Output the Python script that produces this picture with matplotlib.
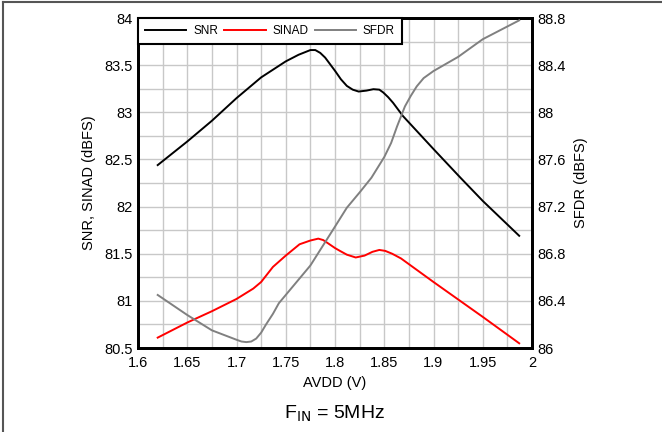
import numpy as np
import matplotlib
matplotlib.use('Agg')
import matplotlib.pyplot as plt
from matplotlib.lines import Line2D

plt.rcParams['font.family'] = ['Liberation Sans', 'DejaVu Sans']

# values
snr_x = [1.62, 1.65, 1.675, 1.70, 1.725, 1.75, 1.763, 1.775, 1.780, 1.785,
         1.790, 1.795, 1.80, 1.806, 1.812, 1.818, 1.824, 1.832, 1.839, 1.845,
         1.849, 1.854, 1.859, 1.864, 1.869, 1.90, 1.927, 1.95, 1.987]
snr_y = [82.44, 82.69, 82.91, 83.15, 83.37, 83.54, 83.61, 83.66, 83.66, 83.63,
         83.58, 83.51, 83.44, 83.35, 83.28, 83.24, 83.22, 83.23, 83.245, 83.24,
         83.21, 83.16, 83.10, 83.03, 82.96, 82.61, 82.31, 82.06, 81.69]

sinad_x = [1.62, 1.65, 1.675, 1.70, 1.717, 1.725, 1.737, 1.75, 1.764, 1.775,
           1.783, 1.788, 1.793, 1.80, 1.805, 1.812, 1.821, 1.83, 1.838, 1.845,
           1.851, 1.858, 1.867, 1.90, 1.95, 1.987]
sinad_y = [80.61, 80.77, 80.89, 81.02, 81.13, 81.20, 81.36, 81.48, 81.60, 81.64,
           81.66, 81.645, 81.61, 81.56, 81.53, 81.49, 81.46, 81.48, 81.52, 81.54,
           81.53, 81.50, 81.45, 81.20, 80.83, 80.55]

sfdr_x = [1.62, 1.65, 1.675, 1.70, 1.705, 1.710, 1.715, 1.720, 1.725, 1.73,
          1.737, 1.743, 1.75, 1.762, 1.775, 1.80, 1.812, 1.825, 1.837, 1.85,
          1.857, 1.863, 1.871, 1.877, 1.883, 1.89, 1.90, 1.925, 1.95, 1.987]
sfdr_y = [86.45, 86.28, 86.15, 86.07, 86.055, 86.05, 86.055, 86.08, 86.13, 86.20,
          86.29, 86.38, 86.45, 86.57, 86.70, 87.03, 87.19, 87.32, 87.445, 87.62,
          87.74, 87.88, 88.05, 88.14, 88.22, 88.29, 88.35, 88.47, 88.62, 88.78]

fig = plt.figure(figsize=(6.62, 4.32), dpi=100)
ax = fig.add_axes([138/662, 1 - 348/432, 394/662, 330/432])
ax2 = ax.twinx()

ax.set_xlim(1.6, 2.0)
ax.set_ylim(80.5, 84)
ax2.set_ylim(86, 88.8)

ax.set_xticks(np.arange(1.6, 2.001, 0.05))
ax.set_xticklabels(['1.6', '1.65', '1.7', '1.75', '1.8', '1.85', '1.9', '1.95', '2'])
ax.set_xticks(np.arange(1.6, 2.001, 0.025), minor=True)
ax.set_yticks(np.arange(80.5, 84.01, 0.5))
ax.set_yticklabels(['80.5', '81', '81.5', '82', '82.5', '83', '83.5', '84'])
ax.set_yticks(np.arange(80.5, 84.01, 0.25), minor=True)
ax2.set_yticks(np.arange(86, 88.81, 0.4))
ax2.set_yticklabels(['86', '86.4', '86.8', '87.2', '87.6', '88', '88.4', '88.8'])

ax.grid(True, which='both', color='#c8c8c8', linewidth=1.0)
ax.set_axisbelow(True)
for a in (ax, ax2):
    a.tick_params(which='both', length=0, labelsize=10.5, pad=4)
    for s in a.spines.values():
        s.set_linewidth(2)
        s.set_color('black')
ax.tick_params(axis='x', pad=6)

ax.plot(snr_x, snr_y, color='black', lw=1.4, zorder=3)
ax.plot(sinad_x, sinad_y, color='#ff0000', lw=1.4, zorder=3)
ax2.plot(sfdr_x, sfdr_y, color='#808080', lw=1.4, zorder=3)

ax.set_xlabel('AVDD (V)', fontsize=10.5, labelpad=4)
ax.set_ylabel('SNR, SINAD (dBFS)', fontsize=10.5, labelpad=6)
ax2.set_ylabel('SFDR (dBFS)', fontsize=10.5, labelpad=6)

handles = [Line2D([], [], color='black', lw=1.4),
           Line2D([], [], color='#ff0000', lw=1.4),
           Line2D([], [], color='#808080', lw=1.4)]
leg = ax2.legend(handles, ['SNR', 'SINAD', 'SFDR'], ncol=3, loc='upper left',
                 bbox_to_anchor=(0, 1), borderaxespad=0, fontsize=8.5,
                 handlelength=3.5, handletextpad=0.6, columnspacing=0.5,
                 fancybox=False, framealpha=1, edgecolor='black',
                 borderpad=0.6)
leg.get_frame().set_linewidth(1.5)

fig.text(335/662, 1 - 414/432, r'F$_{\mathrm{IN}}$ = 5MHz', fontsize=14,
         ha='center', va='center')

# outer frame, top and left edges only
fig.add_artist(Line2D([3/662, 3/662], [0, 1 - 1.5/432], transform=fig.transFigure,
                      color='#555555', lw=1.5))
fig.add_artist(Line2D([3/662, 1], [1 - 1.5/432, 1 - 1.5/432], transform=fig.transFigure,
                      color='#555555', lw=1.5))

fig.savefig('out.png', dpi=100)
